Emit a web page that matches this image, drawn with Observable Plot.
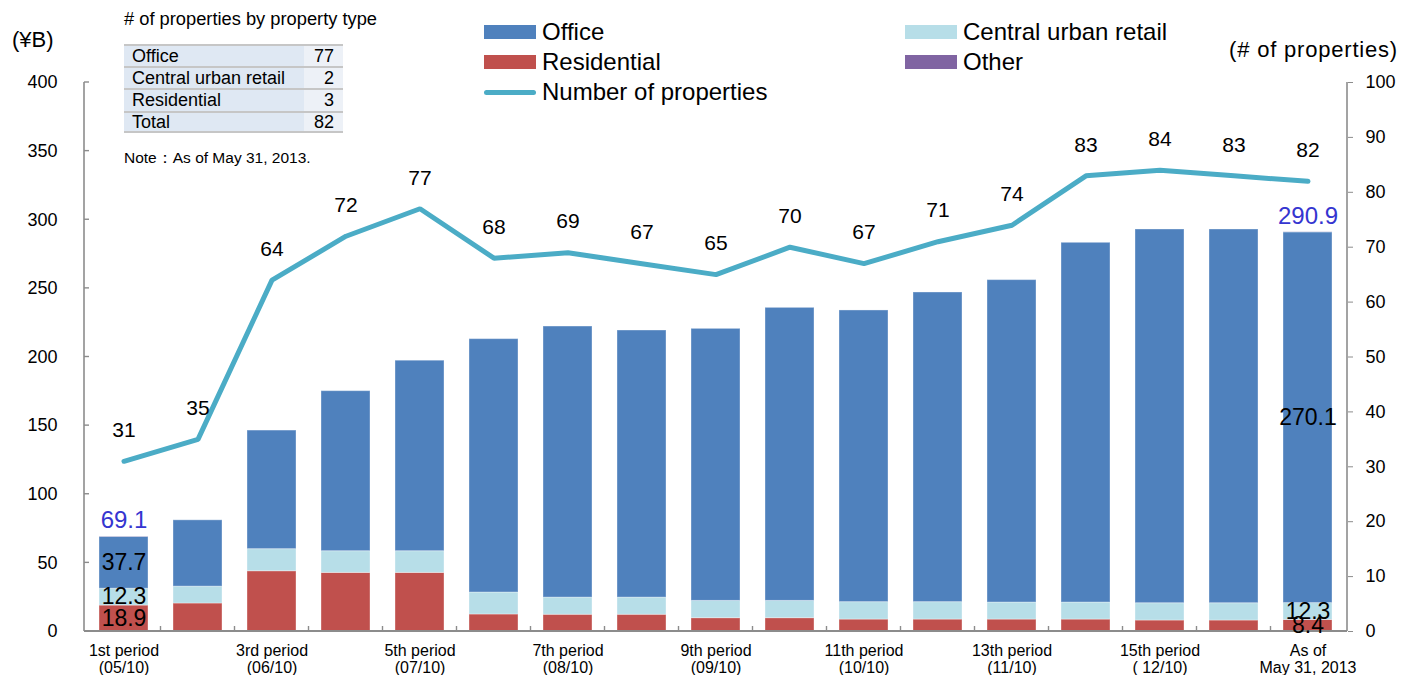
<!DOCTYPE html>
<html><head><meta charset="utf-8">
<script src="https://cdn.jsdelivr.net/npm/d3@7"></script>
<script src="https://cdn.jsdelivr.net/npm/@observablehq/plot@0.6"></script>
<style>
body{margin:0;background:#fff;font-family:"Liberation Sans",Arial,sans-serif;}
#wrap{position:relative;width:1402px;height:675px;overflow:hidden;background:#fff;}
#chart{position:absolute;left:0;top:0;}
.abs{position:absolute;white-space:nowrap;color:#000;}
.sw{position:absolute;}
</style></head><body><div id="wrap"><div id="chart"></div></div>
<script>
// ---- data ----
const periods = ["1st","2nd","3rd","4th","5th","6th","7th","8th","9th","10th","11th","12th","13th","14th","15th","16th","As of"];
const tickLabels = ["1st period\n(05/10)","","3rd period\n(06/10)","","5th period\n(07/10)","","7th period\n(08/10)","","9th period\n(09/10)","","11th period\n(10/10)","","13th period\n(11/10)","","15th period\n( 12/10)","","As of\nMay 31, 2013"];
const office      = [37.7, 48.3, 86.4, 116.6, 138.8, 184.6, 197.5, 194.6, 198.2, 213.5, 212.5, 225.6, 234.9, 262.1, 272.3, 272.3, 270.1];
const retail      = [12.3, 12.3, 16.1, 15.8, 15.8, 16.0, 12.5, 12.5, 12.6, 12.6, 12.7, 12.7, 12.4, 12.4, 12.6, 12.6, 12.3];
const residential = [18.9, 20.4, 43.9, 42.7, 42.7, 12.4, 12.2, 12.2, 9.7, 9.7, 8.7, 8.7, 8.7, 8.7, 8.0, 8.0, 8.4];
const other       = [0.2, 0, 0, 0, 0, 0, 0, 0, 0, 0, 0, 0, 0, 0, 0, 0, 0.1];
const counts      = [31, 35, 64, 72, 77, 68, 69, 67, 65, 70, 67, 71, 74, 83, 84, 83, 82];
const leftTicks   = [0, 50, 100, 150, 200, 250, 300, 350, 400];
const rightTicks  = [0, 10, 20, 30, 40, 50, 60, 70, 80, 90, 100];
const tableTypes  = ["Office", "Central urban retail", "Residential", "Total"];
const tableCounts = [77, 2, 3, 82];
const labeledBars = [0, 16];

// ---- styling ----
const types  = ["Residential", "Central urban retail", "Office", "Other"];
const colors = ["#C0504D", "#B7DEE8", "#4F81BD", "#8064A2"];
const lineColor = "#4BACC6";
const axisGray = "#8c8c8c";
const k = 400 / 100; // left scale units per property

const series = {"Residential": residential, "Central urban retail": retail, "Office": office, "Other": other};
const tidy = [];
periods.forEach((p, i) => types.forEach(t => tidy.push({period: p, type: t, value: series[t][i]})));
const countData = periods.map((p, i) => ({period: p, count: counts[i]}));

const segLabels = [];
const totLabels = [];
labeledBars.forEach(i => {
  const r = residential[i], rt = retail[i], o = office[i];
  segLabels.push({period: periods[i], y: r / 2, text: r.toFixed(1)});
  segLabels.push({period: periods[i], y: r + rt / 2, text: rt.toFixed(1)});
  segLabels.push({period: periods[i], y: r + rt + o / 2, text: o.toFixed(1)});
  totLabels.push({period: periods[i], y: r + rt + o + other[i], text: (r + rt + o + other[i]).toFixed(1)});
});

const frameLines = (index, scales, values, dim) => {
  const g = d3.create("svg:g").attr("stroke", axisGray).attr("fill", "none");
  const x0 = dim.marginLeft, x1 = dim.width - dim.marginRight;
  const y0 = dim.marginTop, y1 = dim.height - dim.marginBottom;
  g.append("line").attr("x1", x0).attr("x2", x0).attr("y1", y0).attr("y2", y1).attr("stroke-width", 1.6);
  g.append("line").attr("x1", x1).attr("x2", x1).attr("y1", y0).attr("y2", y1).attr("stroke-width", 1.6);
  g.append("line").attr("x1", x0).attr("x2", x1).attr("y1", y1).attr("y2", y1).attr("stroke-width", 2);
  leftTicks.forEach(t => {
    const y = scales.y(t);
    g.append("line").attr("x1", x0).attr("x2", x0 + 5).attr("y1", y).attr("y2", y).attr("stroke-width", 1.4);
  });
  const bw = scales.x.bandwidth ? scales.x.bandwidth() : 0;
  for (let i = 1; i < periods.length; i++) {
    const xm = (scales.x(periods[i - 1]) + bw + scales.x(periods[i])) / 2;
    g.append("line").attr("x1", xm).attr("x2", xm).attr("y1", y1).attr("y2", y1 - 5).attr("stroke-width", 1.4);
  }
  return g.node();
};

const chart = Plot.plot({
  width: 1402,
  height: 675,
  marginLeft: 84,
  marginRight: 55,
  marginTop: 82,
  marginBottom: 44,
  style: {fontFamily: '"Liberation Sans", Arial, sans-serif', background: "transparent", color: "#000"},
  x: {domain: periods, paddingInner: 0.334, paddingOuter: 0.167, label: null, axis: null},
  y: {domain: [0, 400], label: null, axis: null},
  color: {domain: types, range: colors},
  marks: [
    Plot.barY(tidy, {x: "period", y: "value", fill: "type", order: types, stroke: "#ffffff", strokeOpacity: 0.35, strokeWidth: 1}),
    frameLines,
    Plot.axisY({anchor: "left", ticks: leftTicks, tickSize: 0, tickPadding: 27, fontSize: 18, fill: "#000", label: null}),
    Plot.axisY({anchor: "right", ticks: rightTicks.map(d => d * k), tickFormat: d => String(d / k), tickSize: 5, tickPadding: 13, fontSize: 18, stroke: axisGray, fill: "#000", label: null}),
    Plot.axisX({tickSize: 0, tickPadding: 13, tickFormat: d => tickLabels[periods.indexOf(d)], fontSize: 16, lineHeight: 1.05, fill: "#000", label: null}),
    Plot.line(countData, {x: "period", y: d => d.count * k, stroke: lineColor, strokeWidth: 5, strokeLinejoin: "miter"}),
    Plot.text(countData, {x: "period", y: d => d.count * k, text: d => String(d.count), dy: -31, fontSize: 21, fill: "#000"}),
    Plot.text(segLabels, {x: "period", y: "y", text: "text", fontSize: 23, fill: "#000"}),
    Plot.text(totLabels, {x: "period", y: "y", text: "text", dy: -16, fontSize: 24, fill: "#3535D0"})
  ]
});
document.getElementById("chart").appendChild(chart);

// ---- overlays: axis titles, legend, table ----
const wrap = document.getElementById("wrap");
function addText(txt, left, cy, size, extra = {}) {
  const d = document.createElement("div");
  d.className = "abs";
  d.textContent = txt;
  d.style.fontSize = size + "px";
  d.style.lineHeight = (size * 1.2) + "px";
  d.style.top = (cy - size * 0.6) + "px";
  if (left != null) d.style.left = left + "px";
  Object.assign(d.style, extra);
  wrap.appendChild(d);
  return d;
}
addText("(¥B)", 12, 40, 22);
addText("(# of properties)", null, 50, 22, {right: "4px", letterSpacing: "0.8px"});

// legend
const legendItems = [
  {label: "Office", color: colors[2], kind: "rect", x: 484, cy: 32},
  {label: "Residential", color: colors[0], kind: "rect", x: 484, cy: 62},
  {label: "Number of properties", color: lineColor, kind: "line", x: 484, cy: 92},
  {label: "Central urban retail", color: colors[1], kind: "rect", x: 905, cy: 32},
  {label: "Other", color: colors[3], kind: "rect", x: 905, cy: 62}
];
legendItems.forEach(it => {
  const s = document.createElement("div");
  s.className = "sw";
  s.style.left = it.x + "px";
  s.style.width = "52px";
  s.style.background = it.color;
  if (it.kind === "rect") { s.style.top = (it.cy - 7) + "px"; s.style.height = "14px"; }
  else { s.style.top = (it.cy - 2.5) + "px"; s.style.height = "5px"; s.style.borderRadius = "3px"; }
  wrap.appendChild(s);
  addText(it.label, it.x + 58, it.cy, 24);
});

// table
addText("# of properties by property type", 124, 19, 18.3);
tableTypes.forEach((t, i) => {
  const top = 44 + i * 22.2;
  const row = document.createElement("div");
  row.className = "sw";
  Object.assign(row.style, {left: "124px", top: top + "px", width: "219px", height: "22.2px", borderTop: "2px solid #c6c6c6", boxSizing: "border-box"});
  if (i === tableTypes.length - 1) row.style.borderBottom = "2px solid #c6c6c6";
  const lab = document.createElement("div");
  Object.assign(lab.style, {position: "absolute", left: "0", top: "0", width: "180px", height: "100%", background: "#dfe8f3"});
  const val = document.createElement("div");
  Object.assign(val.style, {position: "absolute", left: "180px", top: "0", width: "39px", height: "100%", background: "#edf1f7"});
  row.appendChild(lab); row.appendChild(val);
  wrap.appendChild(row);
  const cy = top + 12.5;
  addText(t, 132, cy, 18);
  addText(String(tableCounts[i]), null, cy, 18, {left: "auto", right: (1402 - 334) + "px"});
});
addText("Note：As of May 31, 2013.", 124, 158, 15.5);
</script></body></html>
